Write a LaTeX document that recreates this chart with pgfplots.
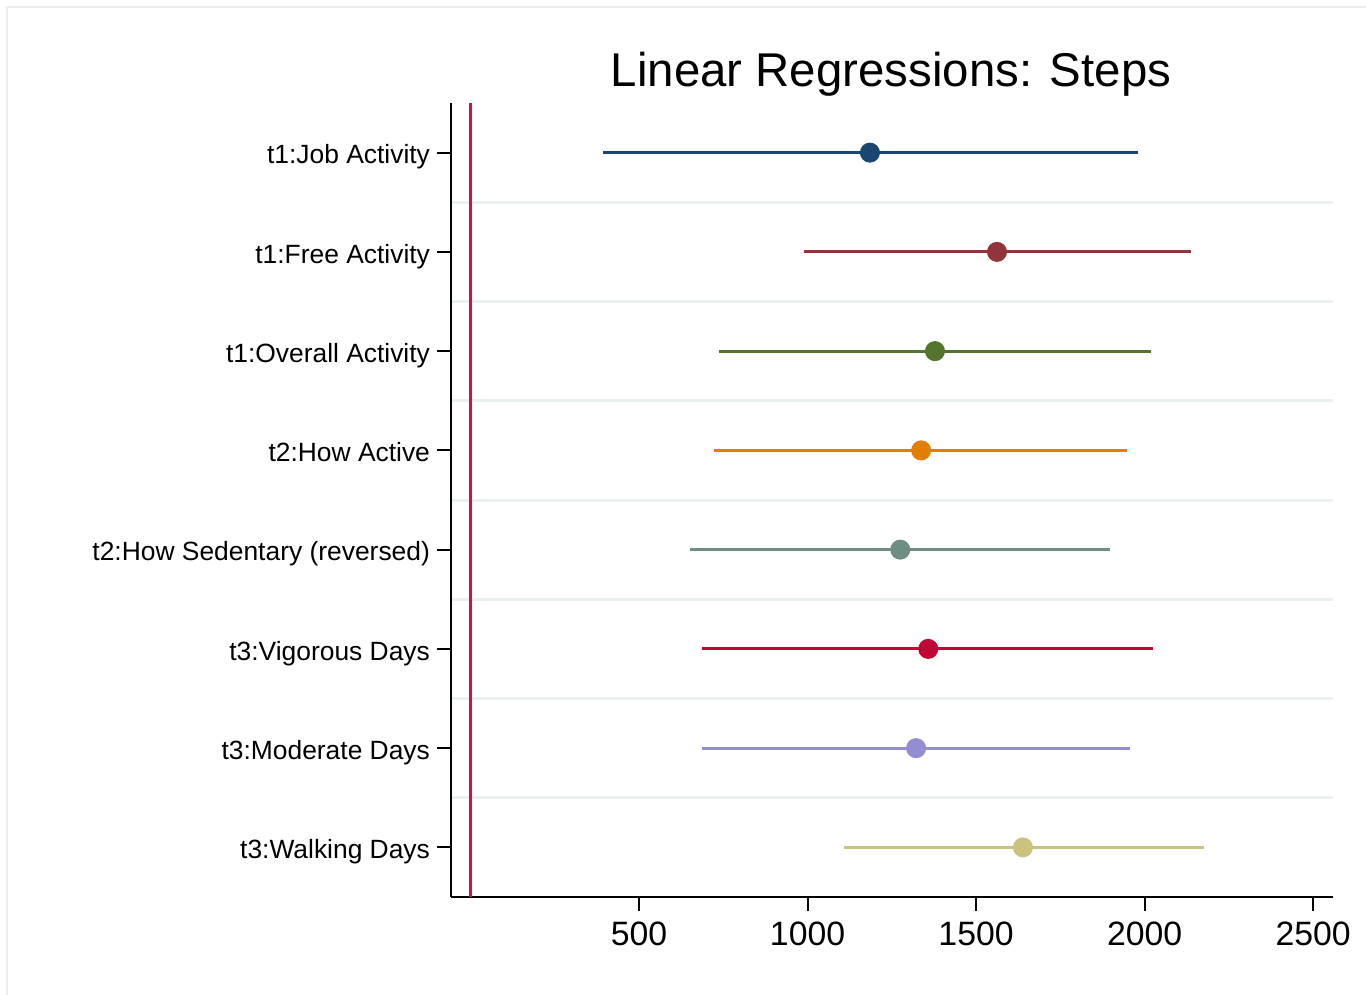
\documentclass[border=0pt]{standalone}
\usepackage{fontspec}
\setmainfont{Liberation Sans}
\usepackage{pgfplots}
\pgfplotsset{compat=1.18}
\definecolor{cnavy}{RGB}{26,71,111}
\definecolor{cmaroon}{RGB}{144,53,59}
\definecolor{cgreen}{RGB}{85,117,47}
\definecolor{corange}{RGB}{227,126,0}
\definecolor{cteal}{RGB}{110,142,132}
\definecolor{ccran}{RGB}{193,5,52}
\definecolor{clav}{RGB}{147,141,210}
\definecolor{ckhaki}{RGB}{202,194,126}
\definecolor{cref}{RGB}{210,16,60}
\definecolor{cgrid}{RGB}{234,240,240}
\begin{document}
\begin{tikzpicture}
\useasboundingbox (0pt,0pt) rectangle (683pt,-497.5pt);
\draw[black!7,line width=0.6pt] (3.5pt,-497.5pt) -- (3.5pt,-3.5pt) -- (683pt,-3.5pt);
\node[anchor=base,font=\fontsize{23.7}{28}\selectfont] at (445.5pt,-43.5pt) {Linear Regressions: Steps};
\begin{axis}[
  at={(225.5pt,-448.5pt)}, anchor=south west,
  scale only axis, width=441pt, height=397pt,
  xmin=-58, xmax=2559, ymin=0.5, ymax=8.5,
  y dir=reverse,
  axis x line=bottom, axis y line=left,
  axis line style={-, line width=1pt, black},
  tick align=outside,
  major tick length=7pt,
  every tick/.style={black, line width=1pt},
  xtick={500,1000,1500,2000,2500},
  ytick={1,2,3,4,5,6,7,8},
  yticklabels={t1:Job Activity,t1:Free Activity,t1:Overall Activity,t2:How Active,t2:How Sedentary (reversed),t3:Vigorous Days,t3:Moderate Days,t3:Walking Days},
  minor ytick={1.5,2.5,3.5,4.5,5.5,6.5,7.5},
  minor tick length=0pt,
  ymajorgrids=false, yminorgrids=true,
  minor grid style={cgrid, line width=1.5pt},
  /pgf/number format/assume math mode=true,
  /pgf/number format/1000 sep={},
  xticklabel style={font=\fontsize{16.9}{20}\selectfont, yshift=-2pt},
  yticklabel style={font=\fontsize{13.2}{16}\selectfont, anchor=base east, yshift=-5.6pt},
  clip=false,
]
\addplot[cref, line width=1.5pt] coordinates {(0,0.5) (0,8.5)};
% CIs
\addplot[cnavy, line width=1.5pt] coordinates {(393,1) (1981,1)};
\addplot[cmaroon, line width=1.5pt] coordinates {(990,2) (2138,2)};
\addplot[cgreen, line width=1.5pt] coordinates {(737,3) (2019,3)};
\addplot[corange, line width=1.5pt] coordinates {(722,4) (1948,4)};
\addplot[cteal, line width=1.5pt] coordinates {(651,5) (1898,5)};
\addplot[ccran, line width=1.5pt] coordinates {(687,6) (2025,6)};
\addplot[clav, line width=1.5pt] coordinates {(687,7) (1957,7)};
\addplot[ckhaki, line width=1.5pt] coordinates {(1108,8) (2177,8)};
% points
\addplot[only marks, mark=*, mark size=4.8pt, cnavy, mark options={fill=cnavy,draw=cnavy}] coordinates {(1185,1)};
\addplot[only marks, mark=*, mark size=4.8pt, cmaroon, mark options={fill=cmaroon,draw=cmaroon}] coordinates {(1562,2)};
\addplot[only marks, mark=*, mark size=4.8pt, cgreen, mark options={fill=cgreen,draw=cgreen}] coordinates {(1378,3)};
\addplot[only marks, mark=*, mark size=4.8pt, corange, mark options={fill=corange,draw=corange}] coordinates {(1337,4)};
\addplot[only marks, mark=*, mark size=4.8pt, cteal, mark options={fill=cteal,draw=cteal}] coordinates {(1275,5)};
\addplot[only marks, mark=*, mark size=4.8pt, ccran, mark options={fill=ccran,draw=ccran}] coordinates {(1358,6)};
\addplot[only marks, mark=*, mark size=4.8pt, clav, mark options={fill=clav,draw=clav}] coordinates {(1322,7)};
\addplot[only marks, mark=*, mark size=4.8pt, ckhaki, mark options={fill=ckhaki,draw=ckhaki}] coordinates {(1639,8)};
\end{axis}
\end{tikzpicture}
\end{document}
